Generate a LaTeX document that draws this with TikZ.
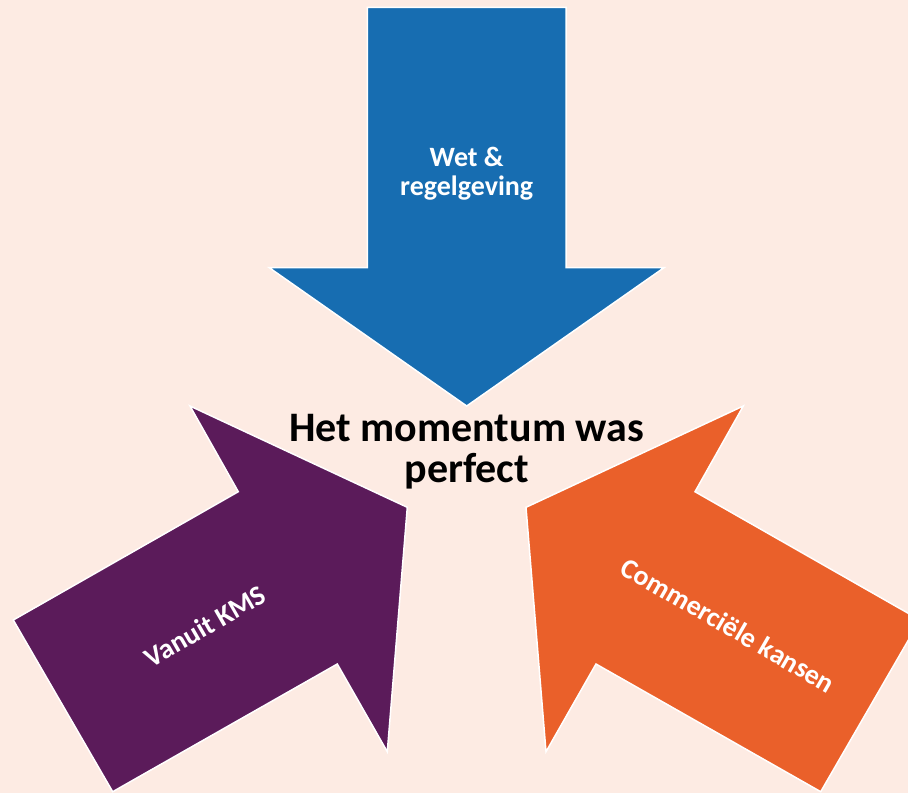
\documentclass[tikz,border=0pt]{standalone}
\usepackage{fontspec}
\setmainfont{Carlito}
\definecolor{bgpink}{HTML}{FDEBE3}
\definecolor{arblue}{HTML}{176DB1}
\definecolor{arpurple}{HTML}{5B1B5A}
\definecolor{arorange}{HTML}{EA602A}
\tikzset{
  bigarrow/.style={draw=white, line width=1.5pt, line join=miter},
  arlabel/.style={text=white, font=\bfseries\fontsize{28}{29}\selectfont, align=center, inner sep=0pt},
  maintext/.style={text=black, font=\bfseries\fontsize{42}{41}\selectfont, align=center, inner sep=0pt}
}
\begin{document}
\begin{tikzpicture}[x=1pt, y=-1pt]
\useasboundingbox (0,0) rectangle (908,793);
\fill[bgpink] (0,0) rectangle (908,793);
\clip (0,0) rectangle (908,793);
% blue arrow (down)
\draw[bigarrow, fill=arblue] (367.3,7.3) -- (566,7.3) -- (566,267.7) -- (664,267.7)
  -- (466.7,406) -- (269.3,267.7) -- (367.3,267.7) -- cycle;
% purple arrow
\draw[bigarrow, fill=arpurple] (13.3,620) -- (238.3,491.7) -- (190,406) -- (407.3,507.3)
  -- (387.3,751.7) -- (337.3,664) -- (112.7,791.7) -- cycle;
% orange arrow
\draw[bigarrow, fill=arorange] (920,620) -- (695,491.7) -- (743.3,406) -- (526,507.3)
  -- (546,751.7) -- (596,664) -- (820.7,791.7) -- cycle;
\node[arlabel] (wet) at (466.7,174) {Wet \&\\regelgeving};
\node[arlabel, rotate=30] (kms) at (205,626) {Vanuit KMS};
\node[arlabel, rotate=-30] (com) at (728.3,625) {Commerciële kansen};
\node[maintext] (mom) at (466.7,451.5) {Het momentum was\\perfect};
\end{tikzpicture}
\end{document}
